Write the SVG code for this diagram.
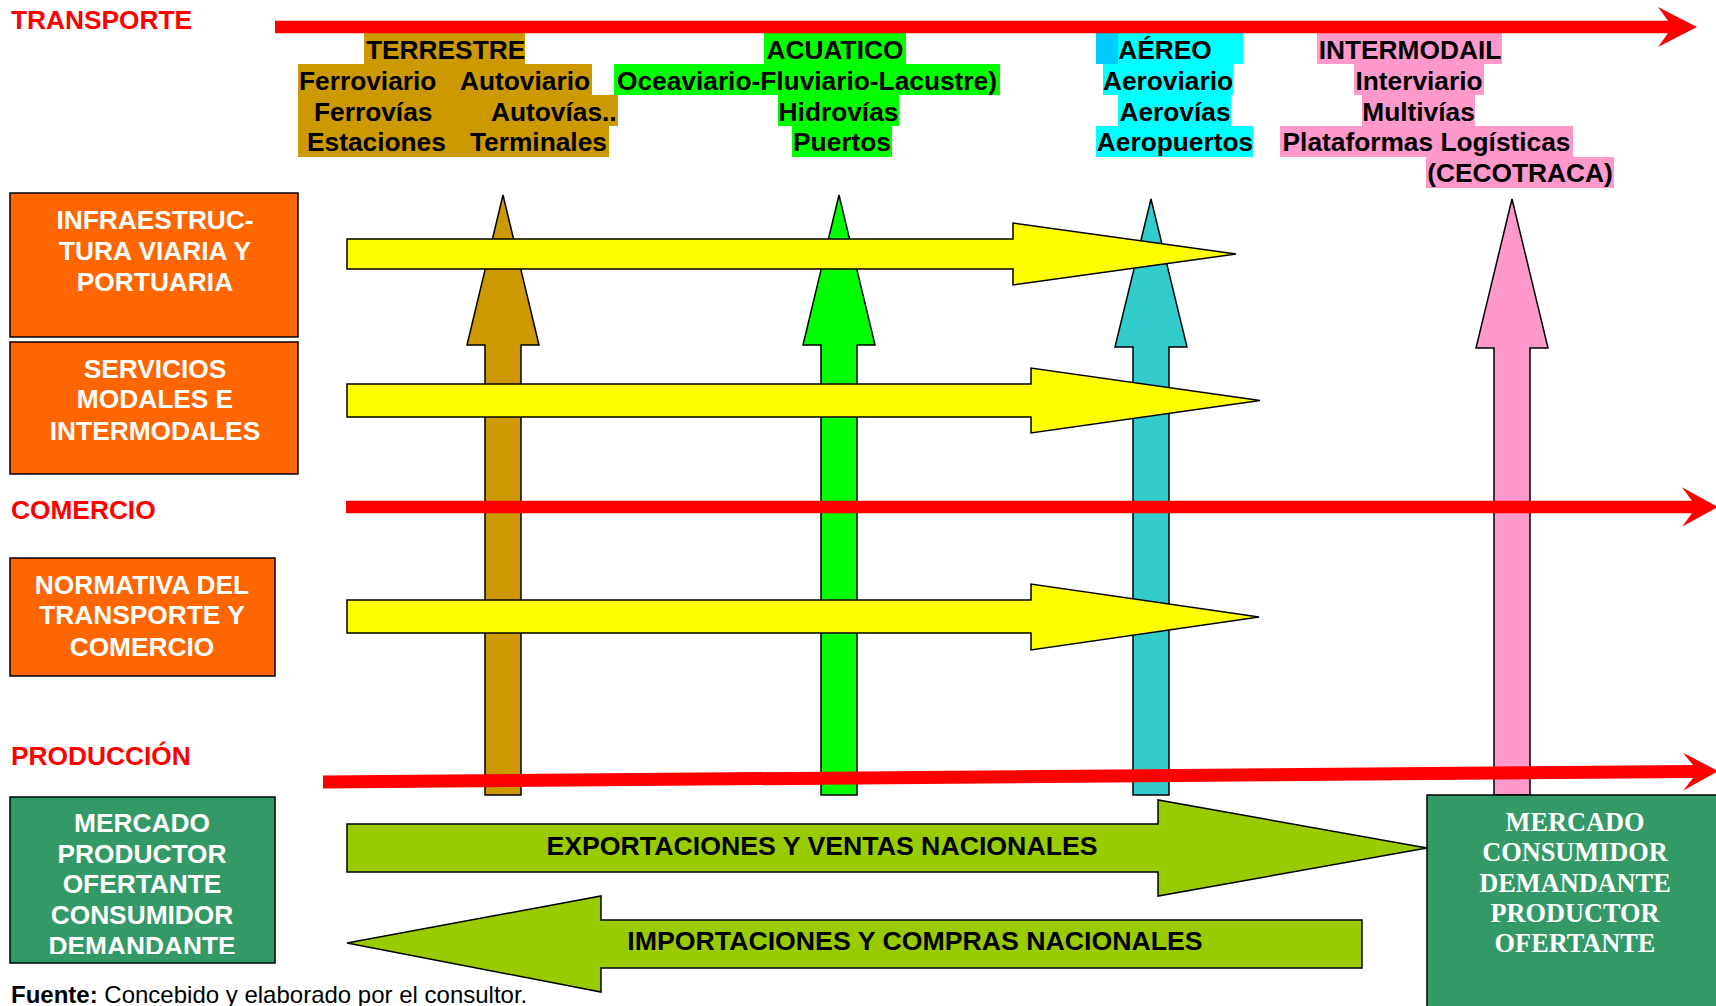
<svg xmlns="http://www.w3.org/2000/svg" width="1716" height="1006" viewBox="0 0 1716 1006">
<style>
text{font-family:"Liberation Sans",Arial,sans-serif;font-weight:bold;font-size:26.3px}
.lbl{fill:#FF0000}
.top{fill:#000}
.mid{text-anchor:middle}
.big{font-size:26.7px}
.wt{fill:#FFFFFF;text-anchor:middle}
.serif{font-family:"Liberation Serif","Times New Roman",serif}
.box{stroke:#000;stroke-width:1.5}
.orange{fill:#FF6600}
.dgreen{fill:#339966}
.arr{stroke:#000;stroke-width:1.5;stroke-linejoin:miter}
.red{fill:#FF0000}
</style>
<defs>
<clipPath id="clipL"><rect x="10" y="797" width="265" height="157"/></clipPath>
</defs>
<rect width="1716" height="1006" fill="#FFFFFF"/>

<!-- mode headers -->
<g id="terrestre">
<rect x="364" y="33" width="161" height="31" fill="#CC9900"/>
<rect x="298" y="64" width="294" height="31" fill="#CC9900"/>
<rect x="298" y="95" width="320" height="31" fill="#CC9900"/>
<rect x="298" y="126" width="311" height="31" fill="#CC9900"/>
<text class="top" x="366" y="59">TERRESTRE</text>
<text class="top" x="299" y="90">Ferroviario</text>
<text class="top" x="460" y="90">Autoviario</text>
<text class="top" x="314" y="121">Ferrovías</text>
<text class="top" x="491" y="121">Autovías..</text>
<text class="top" x="307" y="151">Estaciones</text>
<text class="top" x="470" y="151">Terminales</text>
</g>
<g id="acuatico">
<rect x="764" y="33" width="142" height="31" fill="#00FF00"/>
<rect x="614" y="64" width="386" height="31" fill="#00FF00"/>
<rect x="778" y="95" width="121" height="31" fill="#00FF00"/>
<rect x="792" y="126" width="100" height="31" fill="#00FF00"/>
<text class="top mid" x="835" y="59">ACUATICO</text>
<text class="top mid" x="807" y="90">Oceaviario-Fluviario-Lacustre)</text>
<text class="top mid" x="838.5" y="121">Hidrovías</text>
<text class="top mid" x="842" y="151">Puertos</text>
</g>
<g id="aereo">
<rect x="1096" y="33" width="147" height="31" fill="#00FFFF"/>
<rect x="1096" y="33" width="22" height="31" fill="#00CCFF"/>
<rect x="1103" y="64" width="130" height="31" fill="#00FFFF"/>
<rect x="1118" y="95" width="113" height="31" fill="#00FFFF"/>
<rect x="1096" y="126" width="157" height="31" fill="#00FFFF"/>
<text class="top mid" x="1165" y="59">AÉREO</text>
<text class="top mid" x="1168" y="90">Aeroviario</text>
<text class="top mid" x="1175" y="121">Aerovías</text>
<text class="top mid" x="1175" y="151">Aeropuertos</text>
</g>
<g id="intermodal">
<rect x="1317" y="33" width="185" height="31" fill="#FF99CC"/>
<rect x="1354" y="64" width="130" height="31" fill="#FF99CC"/>
<rect x="1362" y="95" width="113" height="31" fill="#FF99CC"/>
<rect x="1280" y="126" width="293" height="31" fill="#FF99CC"/>
<rect x="1426" y="157" width="188" height="31" fill="#FF99CC"/>
<text class="top mid" x="1410" y="59">INTERMODAIL</text>
<text class="top mid" x="1419" y="90">Interviario</text>
<text class="top mid" x="1418.5" y="121">Multivías</text>
<text class="top mid" x="1426.5" y="151">Plataformas Logísticas</text>
<text class="top mid" x="1520" y="182">(CECOTRACA)</text>
</g>

<!-- side labels -->
<g id="label-transporte"><text class="lbl" x="11" y="29">TRANSPORTE</text></g>
<g id="label-comercio"><text class="lbl" x="11" y="519">COMERCIO</text></g>
<g id="label-produccion"><text class="lbl" x="11" y="765">PRODUCCIÓN</text></g>

<!-- left boxes -->
<g id="infraestructura">
<rect class="box orange" x="10" y="193" width="288" height="144"/>
<text class="wt" x="155" y="229">INFRAESTRUC-</text>
<text class="wt" x="155" y="260">TURA VIARIA Y</text>
<text class="wt" x="155" y="291">PORTUARIA</text>
</g>
<g id="servicios">
<rect class="box orange" x="10" y="342" width="288" height="132"/>
<text class="wt" x="155" y="378">SERVICIOS</text>
<text class="wt" x="155" y="408">MODALES E</text>
<text class="wt" x="155" y="440">INTERMODALES</text>
</g>
<g id="normativa">
<rect class="box orange" x="10" y="558" width="265" height="118"/>
<text class="wt" x="142" y="594">NORMATIVA DEL</text>
<text class="wt" x="142" y="624">TRANSPORTE Y</text>
<text class="wt" x="142" y="656">COMERCIO</text>
</g>

<!-- connectors -->
<g id="connectors">
<polygon class="arr" fill="#CC9900" points="485,795 485,345 467,345 503,195 539,345 521,345 521,795"/>
<polygon class="arr" fill="#00FF00" points="821,795 821,345 803,345 839,195 875,345 857,345 857,795"/>
<polygon class="arr" fill="#33CCCC" points="1133,795 1133,347 1115,347 1151,199 1187,347 1169,347 1169,795"/>
<polygon class="arr" fill="#FF99CC" points="1494,795 1494,348 1476,348 1512,199 1548,348 1530,348 1530,795"/>
<polygon class="arr" fill="#FFFF00" points="347,239 1013,239 1013,223 1236,254 1013,285 1013,269 347,269"/>
<polygon class="arr" fill="#FFFF00" points="347,384 1031,384 1031,368 1260,400.5 1031,433 1031,417 347,417"/>
<polygon class="arr" fill="#FFFF00" points="347,600 1031,600 1031,584 1259,617 1031,650 1031,633 347,633"/>
<path class="red" d="M275,20.7 L1668,20.7 L1658,7 L1697,27 L1658,47 L1668,33.3 L275,33.3 Z"/>
<path class="red" d="M346,500.7 L1692,500.7 L1682,487.3 L1718,507 L1682,526.7 L1692,513.3 L346,513.3 Z"/>
<path class="red" d="M323,775.5 L1693,765 L1683,752.7 L1718,771 L1683,790.7 L1693,778 L323,788.5 Z"/>
<polygon class="arr" fill="#99CC00" points="347,824 1158,824 1158,800 1427,848 1158,896 1158,872 347,872"/>
<polygon class="arr" fill="#99CC00" points="347,943 601,896 601,920 1362,920 1362,968 601,968 601,992"/>
<text class="top mid big" x="822" y="855">EXPORTACIONES Y VENTAS NACIONALES</text>
<text class="top mid big" x="915" y="950">IMPORTACIONES Y COMPRAS NACIONALES</text>
</g>

<!-- market boxes -->
<g id="mercado-productor">
<rect class="box dgreen" x="10" y="797" width="265" height="166"/>
<g clip-path="url(#clipL)">
<text class="wt" x="142" y="832">MERCADO</text>
<text class="wt" x="142" y="863">PRODUCTOR</text>
<text class="wt" x="142" y="893">OFERTANTE</text>
<text class="wt" x="142" y="924">CONSUMIDOR</text>
<text class="wt" x="142" y="955">DEMANDANTE</text>
</g>
</g>
<g id="mercado-consumidor">
<rect class="box dgreen" x="1427" y="795" width="300" height="220"/>
<text class="wt serif" x="1575" y="831">MERCADO</text>
<text class="wt serif" x="1575" y="861">CONSUMIDOR</text>
<text class="wt serif" x="1575" y="892">DEMANDANTE</text>
<text class="wt serif" x="1575" y="922">PRODUCTOR</text>
<text class="wt serif" x="1575" y="952">OFERTANTE</text>
</g>

<g id="fuente">
<text x="11" y="1003" style="font-size:24px;fill:#000">Fuente:<tspan style="font-weight:normal"> Concebido y elaborado por el consultor.</tspan></text>
</g>
</svg>
